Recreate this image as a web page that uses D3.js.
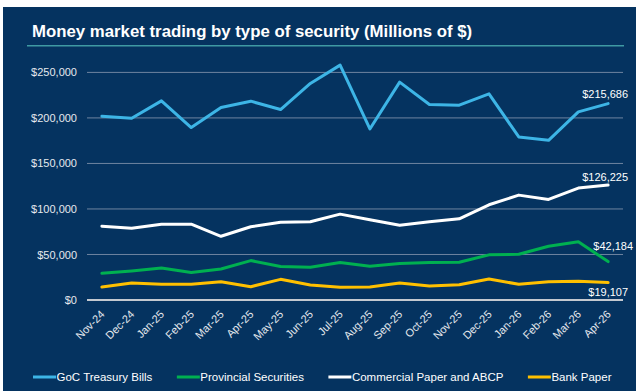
<!DOCTYPE html>
<html>
<head>
<meta charset="utf-8">
<script src="https://cdn.jsdelivr.net/npm/d3@7"></script>
<style>
    html, body { margin: 0; padding: 0; background: #ffffff; }
    svg { display: block; font-family: "Liberation Sans", Arial, sans-serif; }
</style>
</head>
<body>
<svg id="chart" width="637" height="392"></svg>
<script>
"use strict";

/** Month labels on the x axis */
const months = ["Nov-24", "Dec-24", "Jan-25", "Feb-25", "Mar-25", "Apr-25", "May-25", "Jun-25", "Jul-25",
    "Aug-25", "Sep-25", "Oct-25", "Nov-25", "Dec-25", "Jan-26", "Feb-26", "Mar-26", "Apr-26"];
/** GoC Treasury Bills */
const treasuryBills = [201900, 199700, 218700, 189400, 211500, 218400, 209200, 237900, 258000,
    187900, 239300, 214700, 214000, 226400, 179100, 175400, 206600, 215686];
/** Provincial Securities */
const provincial = [29300, 31900, 35200, 30100, 34100, 43300, 36700, 35900, 41100,
    37000, 40000, 41100, 41400, 49600, 50200, 59000, 63900, 42184];
/** Commercial Paper and ABCP */
const commercialPaper = [81100, 78900, 83300, 83300, 70000, 80400, 85500, 85900, 94300,
    88100, 82200, 85900, 89200, 104600, 115200, 110500, 122900, 126225];
/** Bank Paper */
const bankPaper = [14300, 18700, 17200, 17200, 20100, 14600, 22700, 16500, 13900,
    14300, 18700, 15400, 16800, 23100, 17200, 20100, 20500, 19107];
/** y axis ticks */
const yTicks = [0, 50000, 100000, 150000, 200000, 250000];

const svg = d3.select("#chart");
const width = +svg.attr("width");
const height = +svg.attr("height");

// series in legend order, with their line colours and end-label offsets
const series = [
    { name: "GoC Treasury Bills", values: treasuryBills, color: "#3db5e6", dx: 20, dy: -6 },
    { name: "Provincial Securities", values: provincial, color: "#00b050", dx: 25, dy: -11.5 },
    { name: "Commercial Paper and ABCP", values: commercialPaper, color: "#ffffff", dx: 20, dy: -4 },
    { name: "Bank Paper", values: bankPaper, color: "#ffc000", dx: 20, dy: 13.5 }
];
// draw order: white under the others like the original
const drawOrder = [series[2], series[0], series[1], series[3]];

// dark panel
svg.append("rect")
    .attr("x", 3).attr("y", 7)
    .attr("width", width - 4).attr("height", height - 8)
    .attr("fill", "#053360");

// title + teal rule
svg.append("text")
    .attr("x", 32).attr("y", 37)
    .attr("fill", "#ffffff")
    .style("font-size", "16.8px")
    .style("font-weight", "bold")
    .text("Money market trading by type of security (Millions of $)");
svg.append("line")
    .attr("x1", 27).attr("x2", 624)
    .attr("y1", 45.7).attr("y2", 45.7)
    .attr("stroke", "#3f9aa3")
    .attr("stroke-width", 1.5);

const x = d3.scalePoint().domain(months).range([87, 623]).padding(0.5);
const y = d3.scaleLinear().domain([0, 250000]).range([300, 72.4]);
const fmt = d3.format("$,");

// gridlines
svg.append("g")
    .selectAll("line")
    .data(yTicks)
    .enter()
    .append("line")
    .attr("x1", 87).attr("x2", 623)
    .attr("y1", d => y(d)).attr("y2", d => y(d))
    .attr("stroke", d => d === 0 ? "#c4c9d0" : "#6f84a0")
    .attr("stroke-width", d => d === 0 ? 2 : 1);

// y axis labels
const yAxis = svg.append("g")
    .attr("transform", "translate(87,0)")
    .call(d3.axisLeft(y).tickValues(yTicks).tickFormat(fmt).tickSize(0).tickPadding(10));
yAxis.select(".domain").remove();
yAxis.selectAll("text")
    .attr("fill", "#e6e9ee")
    .style("font-size", "11px")
    .style("font-family", "Liberation Sans, Arial, sans-serif");

// x axis labels, rotated
const xAxis = svg.append("g")
    .attr("transform", "translate(0,300)")
    .call(d3.axisBottom(x).tickSize(0));
xAxis.select(".domain").remove();
xAxis.selectAll("text")
    .attr("fill", "#e6e9ee")
    .style("font-size", "11px")
    .style("font-family", "Liberation Sans, Arial, sans-serif")
    .attr("text-anchor", "end")
    .attr("y", 0).attr("dy", 0)
    .attr("transform", "translate(3,15) rotate(-45)");

// lines
const line = d3.line()
    .x((d, i) => x(months[i]))
    .y(d => y(d));
svg.append("g")
    .selectAll("path")
    .data(drawOrder)
    .enter()
    .append("path")
    .attr("d", d => line(d.values))
    .attr("fill", "none")
    .attr("stroke", d => d.color)
    .attr("stroke-width", 3)
    .attr("stroke-linejoin", "round")
    .attr("stroke-linecap", "round");

// last-value labels
const last = months.length - 1;
svg.append("g")
    .selectAll("text")
    .data(series)
    .enter()
    .append("text")
    .attr("x", d => x(months[last]) + d.dx)
    .attr("y", d => y(d.values[last]) + d.dy)
    .attr("text-anchor", "end")
    .attr("fill", "#ffffff")
    .style("font-size", "11px")
    .text(d => fmt(d.values[last]));

// legend, laid out left to right
const legend = svg.append("g").attr("transform", "translate(0,377)");
let lx = 33;
series.forEach(s => {
    legend.append("line")
        .attr("x1", lx).attr("x2", lx + 23)
        .attr("y1", 0).attr("y2", 0)
        .attr("stroke", s.color)
        .attr("stroke-width", 3);
    const t = legend.append("text")
        .attr("x", lx + 23.5)
        .attr("y", 4)
        .attr("fill", "#ffffff")
        .style("font-size", "11.5px")
        .text(s.name);
    lx += 23.5 + t.node().getComputedTextLength() + 24.5;
});
</script>
</body>
</html>
